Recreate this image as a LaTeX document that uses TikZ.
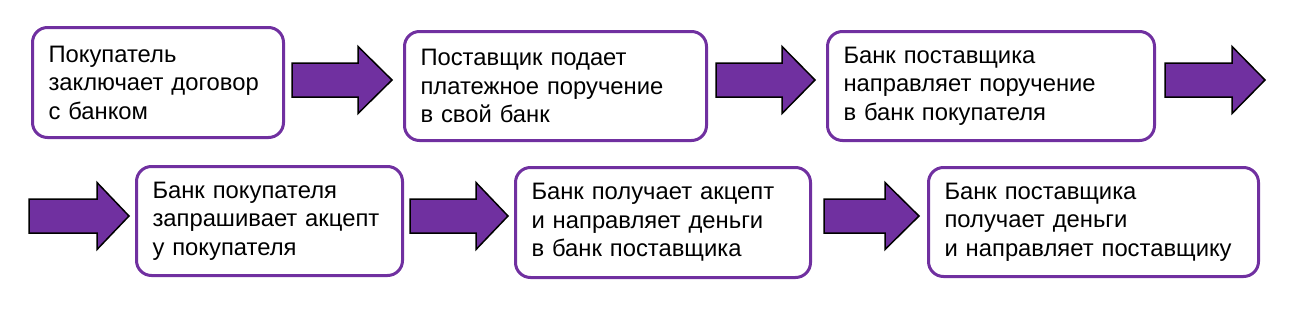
\documentclass[tikz,border=0pt]{standalone}
\usepackage{fontspec}
\setmainfont{Liberation Sans}
\definecolor{vio}{HTML}{7030A0}
\tikzset{
  stepbox/.style={draw=vio, line width=3pt, rounded corners=15pt, fill=white,
    inner xsep=16pt, inner ysep=0pt, align=left, anchor=north west,
    font=\fontsize{23.8}{28.5}\selectfont},
  blockarrow/.style={fill=vio, draw=black, line width=1.5pt, line join=miter}
}
\newcommand{\barrow}[4]{% x0, xh, xtip, yc
  \draw[blockarrow] (#1,#4-17) -- (#2,#4-17) -- (#2,#4-33.5) -- (#3,#4) -- (#2,#4+33.5) -- (#2,#4+17) -- (#1,#4+17) -- cycle;}
\begin{document}
\begin{tikzpicture}[x=1pt,y=-1pt]
\useasboundingbox (0,0) rectangle (1312,335);
\node[stepbox, text width=251pt-32pt, minimum height=110pt] (b1) at (31,26)
  {Покупатель\\заключает договор\\с банком};
\node[stepbox, text width=302pt-32pt, minimum height=109pt] (b2) at (403,30)
  {Поставщик подает\\платежное поручение\\в свой банк};
\node[stepbox, text width=327pt-32pt, minimum height=109pt] (b3) at (826,30)
  {Банк поставщика\\направляет поручение\\в банк покупателя};
\node[stepbox, text width=266pt-32pt, minimum height=109pt] (b4) at (135,165)
  {Банк покупателя\\запрашивает акцепт\\у покупателя};
\node[stepbox, text width=295pt-32pt, minimum height=110pt] (b5) at (514,166)
  {Банк получает акцепт\\и направляет деньги\\в банк поставщика};
\node[stepbox, text width=330pt-32pt, minimum height=109pt] (b6) at (927,166)
  {Банк поставщика\\получает деньги\\и направляет поставщику};
\barrow{292}{358}{392}{80}
\barrow{716}{782}{815}{80}
\barrow{1165}{1232}{1265}{80}
\barrow{29}{97}{129}{216}
\barrow{410}{476}{508}{216}
\barrow{824}{885}{919}{216}
\end{tikzpicture}
\end{document}
